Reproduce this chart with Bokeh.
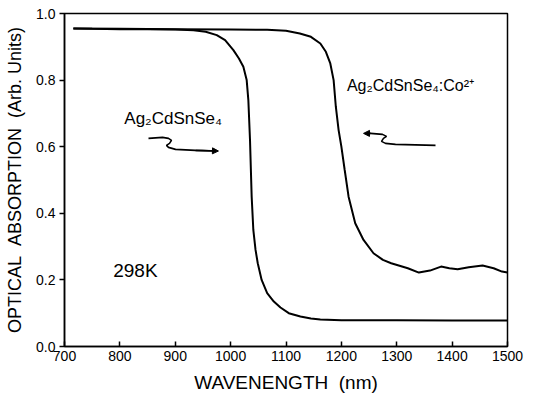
from bokeh.plotting import figure
from bokeh.models import Range1d, FixedTicker, Label, Arrow, NormalHead, PrintfTickFormatter
from bokeh.embed import file_html
from bokeh.resources import INLINE

# ---- data ----
wl_pure = [716, 750, 800, 850, 900, 933, 955, 975, 990, 1005, 1015, 1023, 1029, 1032,
           1035, 1038, 1041, 1045, 1049, 1056, 1066, 1078, 1090, 1105, 1126, 1145, 1162,
           1200, 1300, 1400, 1500]
abs_pure = [0.955, 0.954, 0.953, 0.953, 0.952, 0.950, 0.945, 0.935, 0.92, 0.89, 0.865, 0.84,
            0.80, 0.74, 0.62, 0.45, 0.35, 0.29, 0.25, 0.20, 0.16, 0.135, 0.117, 0.10, 0.09,
            0.084, 0.081, 0.079, 0.079, 0.078, 0.078]

wl_co = [716, 800, 900, 1000, 1066, 1100, 1125, 1145, 1162, 1172, 1180, 1186, 1190, 1195,
         1200, 1206, 1213, 1225, 1240, 1258, 1275, 1290, 1320, 1340, 1360, 1380, 1395,
         1410, 1430, 1455, 1475, 1490, 1500]
abs_co = [0.955, 0.954, 0.953, 0.952, 0.951, 0.948, 0.94, 0.93, 0.91, 0.885, 0.85, 0.80,
          0.72, 0.65, 0.60, 0.53, 0.45, 0.37, 0.32, 0.28, 0.26, 0.25, 0.235, 0.222, 0.228,
          0.24, 0.235, 0.232, 0.238, 0.243, 0.235, 0.225, 0.222]

x_ticks = [700, 800, 900, 1000, 1100, 1200, 1300, 1400, 1500]
y_ticks = [0.0, 0.2, 0.4, 0.6, 0.8, 1.0]

# squiggly annotation arrows (data coordinates)
sq_left_x = [851.7, 877, 887.8, 893.2, 889.6, 884.2, 887.8, 900.5, 936.6, 972]
sq_left_y = [0.625, 0.628, 0.625, 0.619, 0.610, 0.604, 0.598, 0.592, 0.589, 0.587]
sq_right_x = [1370, 1297.7, 1279.7, 1272.5, 1276, 1281.5, 1274.3, 1252.6, 1246]
sq_right_y = [0.604, 0.607, 0.610, 0.616, 0.625, 0.631, 0.637, 0.640, 0.640]

FONT = "Liberation Sans"
SP = "\u00a0\u00a0"

p = figure(width=536, height=403, output_backend="svg", toolbar_location=None,
           x_range=Range1d(700, 1500), y_range=Range1d(0, 1.0),
           min_border_left=64, min_border_right=29, min_border_top=13, min_border_bottom=57)

p.grid.visible = False
p.background_fill_color = "white"
p.border_fill_color = "white"
p.outline_line_color = "black"
p.outline_line_width = 1.5
p.outline_line_alpha = 1.0

p.line(wl_pure, abs_pure, line_color="black", line_width=2)
p.line(wl_co, abs_co, line_color="black", line_width=2)

# arrows
p.line(sq_left_x, sq_left_y, line_color="black", line_width=1.6)
p.add_layout(Arrow(end=NormalHead(size=6, fill_color="black", line_color="black"),
                   x_start=sq_left_x[-2], y_start=sq_left_y[-2],
                   x_end=sq_left_x[-1] + 6, y_end=sq_left_y[-1],
                   line_color="black", line_width=1.6))
p.line(sq_right_x, sq_right_y, line_color="black", line_width=1.6)
p.add_layout(Arrow(end=NormalHead(size=6, fill_color="black", line_color="black"),
                   x_start=sq_right_x[-2], y_start=sq_right_y[-2],
                   x_end=sq_right_x[-1] - 6, y_end=sq_right_y[-1],
                   line_color="black", line_width=1.6))

# texts
p.add_layout(Label(x=808, y=0.655, text="Ag₂CdSnSe₄", text_font=FONT,
                   text_font_size="17px", text_color="black"))
p.add_layout(Label(x=1210, y=0.757, text="Ag₂CdSnSe₄:Co²⁺", text_font=FONT,
                   text_font_size="16px", text_color="black"))
p.add_layout(Label(x=788, y=0.198, text="298K", text_font=FONT,
                   text_font_size="19px", text_color="black"))

# axes
xa = p.xaxis[0]
xa.ticker = FixedTicker(ticks=x_ticks)
xa.axis_label = "WAVENENGTH" + SP + "(nm)"
xa.major_tick_in = 5
xa.major_tick_out = 0
xa.minor_tick_line_color = None
xa.major_label_standoff = 4
xa.axis_label_standoff = 8
xa.axis_label_text_font_size = "19px"

ya = p.yaxis[0]
ya.ticker = FixedTicker(ticks=y_ticks)
ya.formatter = PrintfTickFormatter(format="%.1f")
ya.axis_label = "OPTICAL" + SP + "ABSORPTION" + SP + "(Arb. Units)"
ya.major_tick_in = 0
ya.major_tick_out = 5
ya.minor_tick_line_color = None
ya.major_label_standoff = 4
ya.axis_label_standoff = 8
ya.axis_label_text_font_size = "18px"

for ax in (xa, ya):
    ax.axis_line_color = "black"
    ax.axis_line_width = 1.5
    ax.major_tick_line_color = "black"
    ax.major_tick_line_width = 1.5
    ax.major_label_text_font = FONT
    ax.major_label_text_font_size = "14px"
    ax.major_label_text_color = "black"
    ax.axis_label_text_font = FONT
    ax.axis_label_text_font_style = "normal"
    ax.axis_label_text_color = "black"

open("out.html", "w").write(file_html(p, INLINE))
